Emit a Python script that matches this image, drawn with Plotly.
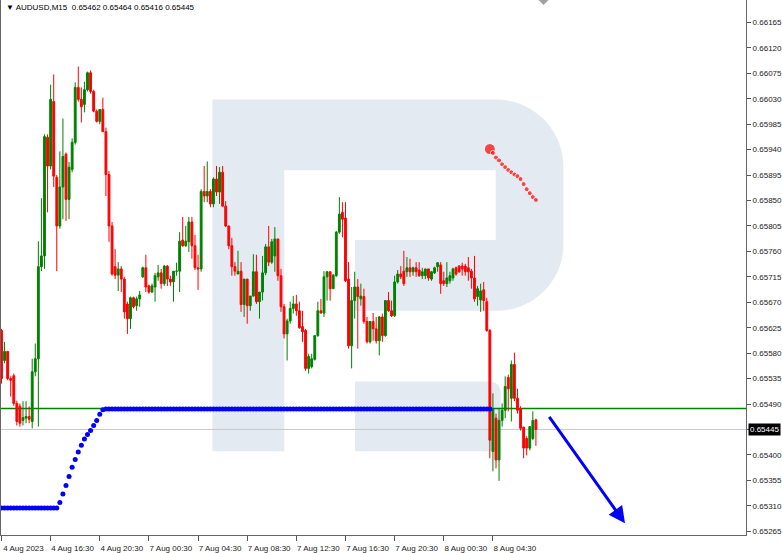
import plotly.graph_objects as go

# ---------------- data ----------------
symbol = "AUDUSD,M15"

opens = [
    0.65620, 0.65567, 0.65583, 0.65535, 0.65540, 0.65491, 0.65486, 0.65461, 0.65465, 0.65468,
    0.65459, 0.65547, 0.65570, 0.65733, 0.65752, 0.65962, 0.65911, 0.66025, 0.65891, 0.65805,
    0.65874, 0.65932, 0.65852, 0.65905, 0.65953, 0.66050, 0.66029, 0.66020, 0.66046, 0.66076,
    0.66043, 0.66008, 0.65990, 0.66011, 0.65972, 0.65896, 0.65805, 0.65733, 0.65718, 0.65729,
    0.65711, 0.65667, 0.65641, 0.65678, 0.65664, 0.65676, 0.65715, 0.65731, 0.65699, 0.65688,
    0.65697, 0.65715, 0.65722, 0.65703, 0.65734, 0.65711, 0.65706, 0.65725, 0.65725, 0.65780,
    0.65770, 0.65777, 0.65812, 0.65770, 0.65731, 0.65729, 0.65866, 0.65858, 0.65866, 0.65844,
    0.65888, 0.65865, 0.65900, 0.65840, 0.65805, 0.65770, 0.65733, 0.65720, 0.65725, 0.65666,
    0.65711, 0.65664, 0.65681, 0.65724, 0.65671, 0.65688, 0.65722, 0.65768, 0.65741, 0.65752,
    0.65782, 0.65717, 0.65662, 0.65614, 0.65637, 0.65659, 0.65667, 0.65655, 0.65627, 0.65620,
    0.65553, 0.65556, 0.65569, 0.65611, 0.65655, 0.65651, 0.65715, 0.65724, 0.65694, 0.65717,
    0.65794, 0.65829, 0.65819, 0.65711, 0.65593, 0.65673, 0.65697, 0.65676, 0.65680, 0.65636,
    0.65600, 0.65636, 0.65623, 0.65602, 0.65644, 0.65611, 0.65673, 0.65655, 0.65646, 0.65706,
    0.65720, 0.65725, 0.65724, 0.65731, 0.65724, 0.65731, 0.65727, 0.65717, 0.65717, 0.65729,
    0.65711, 0.65722, 0.65733, 0.65736, 0.65708, 0.65703, 0.65708, 0.65713, 0.65731, 0.65734,
    0.65734, 0.65734, 0.65731, 0.65725, 0.65713, 0.65680, 0.65674, 0.65692, 0.65671, 0.65620,
    0.65406, 0.65465, 0.65391, 0.65461, 0.65479, 0.65537, 0.65500, 0.65560, 0.65500, 0.65482,
    0.65449, 0.65429, 0.65412, 0.65429, 0.65462,
]

highs = [
    0.65623, 0.65600, 0.65584, 0.65539, 0.65544, 0.65496, 0.65491, 0.65495, 0.65495, 0.65486,
    0.65570, 0.65597, 0.65778, 0.65854, 0.65967, 0.65967, 0.66055, 0.66073, 0.65895, 0.65937,
    0.65995, 0.65935, 0.65918, 0.65960, 0.66059, 0.66087, 0.66050, 0.66060, 0.66078, 0.66080,
    0.66046, 0.66011, 0.66011, 0.66032, 0.65979, 0.65902, 0.65812, 0.65764, 0.65741, 0.65734,
    0.65715, 0.65671, 0.65680, 0.65680, 0.65680, 0.65690, 0.65733, 0.65754, 0.65701, 0.65703,
    0.65722, 0.65736, 0.65729, 0.65736, 0.65736, 0.65717, 0.65725, 0.65740, 0.65794, 0.65821,
    0.65805, 0.65821, 0.65821, 0.65789, 0.65754, 0.65870, 0.65911, 0.65919, 0.65870, 0.65891,
    0.65911, 0.65909, 0.65911, 0.65849, 0.65805, 0.65784, 0.65741, 0.65761, 0.65741, 0.65711,
    0.65711, 0.65681, 0.65755, 0.65754, 0.65688, 0.65752, 0.65773, 0.65805, 0.65782, 0.65803,
    0.65782, 0.65729, 0.65667, 0.65641, 0.65671, 0.65681, 0.65683, 0.65671, 0.65655, 0.65623,
    0.65579, 0.65579, 0.65611, 0.65671, 0.65676, 0.65725, 0.65725, 0.65724, 0.65720, 0.65796,
    0.65856, 0.65847, 0.65847, 0.65741, 0.65697, 0.65724, 0.65711, 0.65703, 0.65694, 0.65644,
    0.65637, 0.65651, 0.65644, 0.65646, 0.65650, 0.65673, 0.65688, 0.65673, 0.65717, 0.65727,
    0.65734, 0.65761, 0.65750, 0.65747, 0.65733, 0.65741, 0.65741, 0.65731, 0.65729, 0.65729,
    0.65725, 0.65733, 0.65741, 0.65741, 0.65724, 0.65741, 0.65724, 0.65731, 0.65733, 0.65736,
    0.65740, 0.65738, 0.65750, 0.65729, 0.65752, 0.65699, 0.65703, 0.65706, 0.65678, 0.65623,
    0.65509, 0.65473, 0.65482, 0.65491, 0.65539, 0.65542, 0.65567, 0.65581, 0.65517, 0.65486,
    0.65450, 0.65433, 0.65450, 0.65477, 0.65464,
]

lows = [
    0.65526, 0.65562, 0.65532, 0.65503, 0.65487, 0.65452, 0.65450, 0.65452, 0.65456, 0.65456,
    0.65447, 0.65539, 0.65450, 0.65725, 0.65729, 0.65829, 0.65905, 0.65874, 0.65725, 0.65800,
    0.65817, 0.65814, 0.65817, 0.65900, 0.65949, 0.66025, 0.65988, 0.66006, 0.66043, 0.66039,
    0.66006, 0.65988, 0.65985, 0.65971, 0.65858, 0.65777, 0.65717, 0.65711, 0.65690, 0.65688,
    0.65641, 0.65614, 0.65623, 0.65659, 0.65655, 0.65662, 0.65713, 0.65688, 0.65685, 0.65687,
    0.65671, 0.65708, 0.65694, 0.65699, 0.65699, 0.65699, 0.65671, 0.65717, 0.65688, 0.65768,
    0.65768, 0.65759, 0.65747, 0.65727, 0.65692, 0.65724, 0.65847, 0.65847, 0.65838, 0.65838,
    0.65858, 0.65844, 0.65840, 0.65803, 0.65764, 0.65717, 0.65717, 0.65720, 0.65653, 0.65644,
    0.65632, 0.65655, 0.65680, 0.65667, 0.65641, 0.65673, 0.65718, 0.65734, 0.65738, 0.65724,
    0.65708, 0.65653, 0.65606, 0.65567, 0.65632, 0.65650, 0.65646, 0.65623, 0.65600, 0.65549,
    0.65544, 0.65553, 0.65567, 0.65609, 0.65650, 0.65644, 0.65673, 0.65673, 0.65694, 0.65715,
    0.65791, 0.65785, 0.65706, 0.65588, 0.65553, 0.65641, 0.65588, 0.65664, 0.65632, 0.65597,
    0.65597, 0.65602, 0.65597, 0.65576, 0.65600, 0.65609, 0.65653, 0.65644, 0.65644, 0.65703,
    0.65711, 0.65699, 0.65715, 0.65715, 0.65717, 0.65715, 0.65715, 0.65711, 0.65711, 0.65708,
    0.65708, 0.65720, 0.65724, 0.65685, 0.65699, 0.65697, 0.65703, 0.65708, 0.65717, 0.65722,
    0.65717, 0.65717, 0.65708, 0.65694, 0.65671, 0.65664, 0.65653, 0.65655, 0.65618, 0.65394,
    0.65371, 0.65376, 0.65354, 0.65450, 0.65465, 0.65477, 0.65459, 0.65495, 0.65473, 0.65443,
    0.65394, 0.65399, 0.65408, 0.65426, 0.65416,
]

closes = [
    0.65535, 0.65583, 0.65535, 0.65532, 0.65491, 0.65459, 0.65456, 0.65466, 0.65468, 0.65463,
    0.65547, 0.65570, 0.65733, 0.65752, 0.65963, 0.65911, 0.66029, 0.65893, 0.65805, 0.65874,
    0.65928, 0.65852, 0.65909, 0.65953, 0.66050, 0.66029, 0.66016, 0.66046, 0.66076, 0.66043,
    0.66008, 0.65990, 0.66011, 0.65972, 0.65896, 0.65805, 0.65720, 0.65718, 0.65729, 0.65711,
    0.65653, 0.65641, 0.65678, 0.65662, 0.65676, 0.65683, 0.65731, 0.65697, 0.65688, 0.65699,
    0.65717, 0.65722, 0.65703, 0.65734, 0.65711, 0.65706, 0.65725, 0.65725, 0.65778, 0.65770,
    0.65778, 0.65812, 0.65770, 0.65731, 0.65729, 0.65866, 0.65858, 0.65866, 0.65844, 0.65888,
    0.65865, 0.65900, 0.65840, 0.65805, 0.65770, 0.65733, 0.65725, 0.65725, 0.65666, 0.65711,
    0.65664, 0.65681, 0.65724, 0.65671, 0.65688, 0.65722, 0.65768, 0.65741, 0.65777, 0.65782,
    0.65717, 0.65662, 0.65614, 0.65637, 0.65659, 0.65667, 0.65655, 0.65625, 0.65618, 0.65553,
    0.65574, 0.65570, 0.65611, 0.65655, 0.65651, 0.65715, 0.65724, 0.65694, 0.65718, 0.65794,
    0.65826, 0.65817, 0.65708, 0.65593, 0.65673, 0.65697, 0.65680, 0.65681, 0.65636, 0.65600,
    0.65636, 0.65623, 0.65602, 0.65644, 0.65611, 0.65673, 0.65655, 0.65646, 0.65706, 0.65720,
    0.65715, 0.65703, 0.65731, 0.65724, 0.65731, 0.65724, 0.65717, 0.65724, 0.65729, 0.65713,
    0.65724, 0.65731, 0.65740, 0.65703, 0.65703, 0.65713, 0.65717, 0.65729, 0.65720, 0.65724,
    0.65729, 0.65724, 0.65724, 0.65713, 0.65676, 0.65694, 0.65690, 0.65673, 0.65620, 0.65426,
    0.65482, 0.65391, 0.65461, 0.65479, 0.65521, 0.65517, 0.65560, 0.65500, 0.65479, 0.65447,
    0.65412, 0.65412, 0.65450, 0.65461, 0.65445,
]

# blue dotted indicator, one value per bar (bars 0..159)
indicator = ([0.65306] * 19 +
             [0.65316, 0.65331, 0.65346, 0.65362, 0.65378, 0.65392, 0.65405, 0.65417,
              0.65428, 0.65436, 0.65443, 0.65452, 0.65461, 0.65472, 0.65480] +
             [0.65481] * 126)

# red forecast dots (bar index, price)
red_bars = [159, 160, 161, 162, 163, 164, 165, 166, 167, 168, 169, 170, 171, 172, 173, 174]
red_prices = [0.65941, 0.65934, 0.65926, 0.65921, 0.65914, 0.65909, 0.65904, 0.65900,
              0.65896, 0.65893, 0.65888, 0.65879, 0.65870, 0.65863, 0.65856, 0.65851]

# blue forecast arrow (start -> end)
arrow_bars = [178, 203]
arrow_prices = [0.65470, 0.65279]

green_level = 0.65482

price_ticks = [0.65265, 0.65310, 0.65355, 0.65400, 0.65445, 0.65490, 0.65535, 0.65580,
               0.65625, 0.65670, 0.65715, 0.65760, 0.65805, 0.65850, 0.65895, 0.65940,
               0.65985, 0.66030, 0.66075, 0.66120, 0.66165]

time_tick_bars = [0, 16, 32, 48, 64, 80, 96, 112, 128, 144, 160]
time_tick_labels = ["4 Aug 2023", "4 Aug 16:30", "4 Aug 20:30", "7 Aug 00:30", "7 Aug 04:30",
                    "7 Aug 08:30", "7 Aug 12:30", "7 Aug 16:30", "7 Aug 20:30", "8 Aug 00:30",
                    "8 Aug 04:30"]

# ---------------- figure ----------------
bars = list(range(len(closes)))
FONT = "Liberation Sans"
bid = closes[-1]

fig = go.Figure()

# background watermark logo (paper coordinates of plot area 747x537)
def P(x, y):
    return f"{(x - 1) / 747:.4f},{(537 - y) / 537:.4f}"

logo_main = ("M " + P(213, 453) + " L " + P(213, 100) + " L " + P(497, 100) +
             " C " + P(535, 100) + " " + P(565, 130) + " " + P(565, 168) +
             " L " + P(565, 245) +
             " C " + P(565, 282) + " " + P(535, 312) + " " + P(498, 312) +
             " L " + P(356, 312) + " L " + P(356, 241) + " L " + P(497, 241) +
             " L " + P(497, 171) + " L " + P(285, 171) + " L " + P(285, 453) + " Z")
logo_leg = ("M " + P(356, 383) + " L " + P(490, 383) + " Q " + P(502, 383) + " " + P(502, 395) +
            " L " + P(502, 453) + " L " + P(356, 453) + " Z")
for path in (logo_main, logo_leg):
    fig.add_shape(type="path", path=path, xref="paper", yref="paper",
                  fillcolor="#E4EAF2", line=dict(width=0), layer="below")

# horizontal levels
fig.add_shape(type="line", xref="paper", x0=0, x1=1, yref="y", y0=bid, y1=bid,
              line=dict(color="#C8C8C8", width=1), layer="below")
fig.add_shape(type="line", xref="paper", x0=0, x1=1, yref="y", y0=green_level, y1=green_level,
              line=dict(color="#008000", width=1.5), layer="below")

fig.add_trace(go.Candlestick(
    x=bars, open=opens, high=highs, low=lows, close=closes,
    increasing=dict(line=dict(color="#008000", width=1), fillcolor="#008000"),
    decreasing=dict(line=dict(color="#FF0000", width=1), fillcolor="#FF0000"),
    whiskerwidth=0, showlegend=False, hoverinfo="skip"))

fig.add_trace(go.Scatter(x=bars[:len(indicator)], y=indicator, mode="markers",
                         marker=dict(color="#0000FF", size=5), showlegend=False, hoverinfo="skip"))

fig.add_trace(go.Scatter(x=red_bars, y=red_prices, mode="markers",
                         marker=dict(color="#FF0000", size=[11] + [5] * (len(red_bars) - 1)),
                         showlegend=False, hoverinfo="skip"))

fig.add_annotation(x=arrow_bars[1], y=arrow_prices[1], ax=arrow_bars[0], ay=arrow_prices[0],
                   xref="x", yref="y", axref="x", ayref="y", text="", showarrow=True,
                   arrowhead=2, arrowsize=1.1, arrowwidth=3, arrowcolor="#0000FF")

header = (f"\u25BC {symbol}  {opens[-1]:.5f} {highs[-1]:.5f} {lows[-1]:.5f} {closes[-1]:.5f}")
fig.add_annotation(x=0.004, y=1 - 8 / 537, xref="paper", yref="paper", xanchor="left",
                   yanchor="middle", text=header, showarrow=False,
                   font=dict(family=FONT, size=8, color="#000000"))

fig.add_annotation(x=1, y=bid, xref="paper", yref="y", xanchor="left", yanchor="middle",
                   xshift=2, text=f"{bid:.5f}", showarrow=False, bgcolor="#000000",
                   borderpad=1, font=dict(family=FONT, size=8, color="#FFFFFF"))

# chart shift marker
fig.add_shape(type="path", xref="paper", yref="paper",
              path="M " + P(540, 0) + " L " + P(550, 0) + " L " + P(545, 5) + " Z",
              fillcolor="#A0A0A0", line=dict(width=0))

y_ticktext = ["" if abs(v - bid) < 1e-7 else f"{v:.5f}" for v in price_ticks]

fig.update_layout(
    width=782, height=553,
    margin=dict(l=1, r=34, t=0, b=16),
    paper_bgcolor="#FFFFFF", plot_bgcolor="#FFFFFF",
    boxgap=0.15,
    showlegend=False,
    font=dict(family=FONT, size=8, color="#222222"),
    xaxis=dict(range=[-0.16, 242.4], tickvals=time_tick_bars, ticktext=time_tick_labels,
               ticks="outside", ticklen=5, tickcolor="#555555", showline=True,
               linecolor="#666666", linewidth=1, showgrid=False, zeroline=False,
               rangeslider=dict(visible=False), ticklabelshift=22,
               tickfont=dict(family=FONT, size=8, color="#222222")),
    yaxis=dict(side="right", range=[0.652583, 0.662047], tickvals=price_ticks,
               ticktext=y_ticktext, ticks="outside", ticklen=4,
               tickcolor="#555555", showline=True, linecolor="#666666", linewidth=1,
               mirror=True, showgrid=False, zeroline=False,
               tickfont=dict(family=FONT, size=8, color="#222222")),
)

fig.write_html("out.html", config={"displayModeBar": False},
               post_script="document.body.style.margin='0';document.body.style.padding='0';"
                           "document.body.style.overflow='hidden';")
